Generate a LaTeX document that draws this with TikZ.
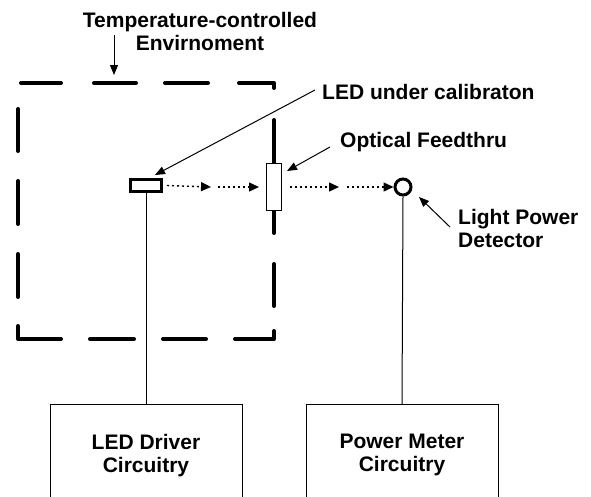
\documentclass[tikz,border=0pt]{standalone}
\usepackage{fontspec}
\setmainfont{Liberation Sans}
\usetikzlibrary{arrows.meta}
\begin{document}
\begin{tikzpicture}[x=1pt,y=-1pt,
  lbl/.style={font=\bfseries\fontsize{21}{23}\selectfont, inner sep=0pt},
  frame/.style={line width=4pt, line cap=round, line join=round},
  leader/.style={line width=1pt, -{Triangle[length=10pt,width=8pt]}},
  beam/.style={line width=1.4pt, dash pattern=on 2pt off 3pt, -{Triangle[length=10pt,width=9pt]}},
  wire/.style={line width=1pt},
  circbox/.style={draw, line width=1pt, minimum width=192pt, minimum height=130pt, anchor=north, inner sep=0pt}]
\useasboundingbox (0,0) rectangle (591,496);
\clip (0,0) rectangle (591,496);
% temperature-controlled environment frame
\draw[frame] (21,83) -- (61,83);
\draw[frame] (94,83) -- (136,83);
\draw[frame] (165,83) -- (208,83);
\draw[frame] (239,83) -- (274,83) -- (274,88);
\draw[frame] (18,109) -- (18,151);
\draw[frame] (18,181) -- (18,224);
\draw[frame] (18,254) -- (18,297);
\draw[frame] (18,326) -- (18,339) -- (61,339);
\draw[frame] (90,339) -- (134,339);
\draw[frame] (163,339) -- (206,339);
\draw[frame] (235,339) -- (274,339) -- (274,331);
\draw[frame] (274,120) -- (274,233);
\draw[frame] (274,264) -- (274,306);
% components
\node[draw, line width=3pt, fill=white, minimum width=31pt, minimum height=12pt, inner sep=0pt] (led) at (146,185.5) {};
\node[draw, line width=1pt, fill=white, minimum width=15pt, minimum height=47pt, inner sep=0pt] (ft) at (274,187) {};
\node[draw, circle, line width=3pt, fill=white, minimum size=16pt, inner sep=0pt] (det) at (403,187) {};
\node[circbox] (drv) at (146,404) {};
\node[circbox] (pm) at (402,404) {};
% box texts
\node[lbl, align=center, anchor=base] (drvt) at (146,472) {LED Driver\\Circuitry};
\node[lbl, align=center, anchor=base] (pmt) at (402,471) {Power Meter\\Circuitry};
% wires
\draw[wire] (led.south) -- (drv.north);
\draw[wire] (det.south) -- (pm.north);
% light path
\coordinate (b1) at (211,187);
\coordinate (b2) at (218,187);
\coordinate (b3) at (259,187);
\coordinate (b4) at (290,187);
\coordinate (b5) at (339,187);
\coordinate (b6) at (347,187);
\draw[beam] (led.east) ++(4,0) -- (b1);
\draw[beam] (b2) -- (b3);
\draw[beam] (b4) -- (b5);
\draw[beam] (b6) -- (det.west);
% labels
\node[lbl, align=center, anchor=base] (env) at (200,50) {Temperature-controlled\\Envirnoment};
\node[lbl, anchor=base west] (ledl) at (322,99) {LED under calibraton};
\node[lbl, anchor=base west] (ftl) at (340,147) {Optical Feedthru};
\node[lbl, align=left, anchor=base west] (detl) at (458,247) {Light Power\\Detector};
% leaders
\coordinate (e0) at (114,35);
\coordinate (e1) at (114,75);
\draw[leader] (e0) -- (e1);
\coordinate (l0) at (315,90);
\coordinate (l1) at (155,175);
\draw[leader] (l0) -- (l1);
\coordinate (f0) at (330,147);
\coordinate (f1) at (287,171);
\draw[leader] (f0) -- (f1);
\coordinate (d0) at (450,227);
\coordinate (d1) at (419,197);
\draw[leader] (d0) -- (d1);
\end{tikzpicture}
\end{document}
